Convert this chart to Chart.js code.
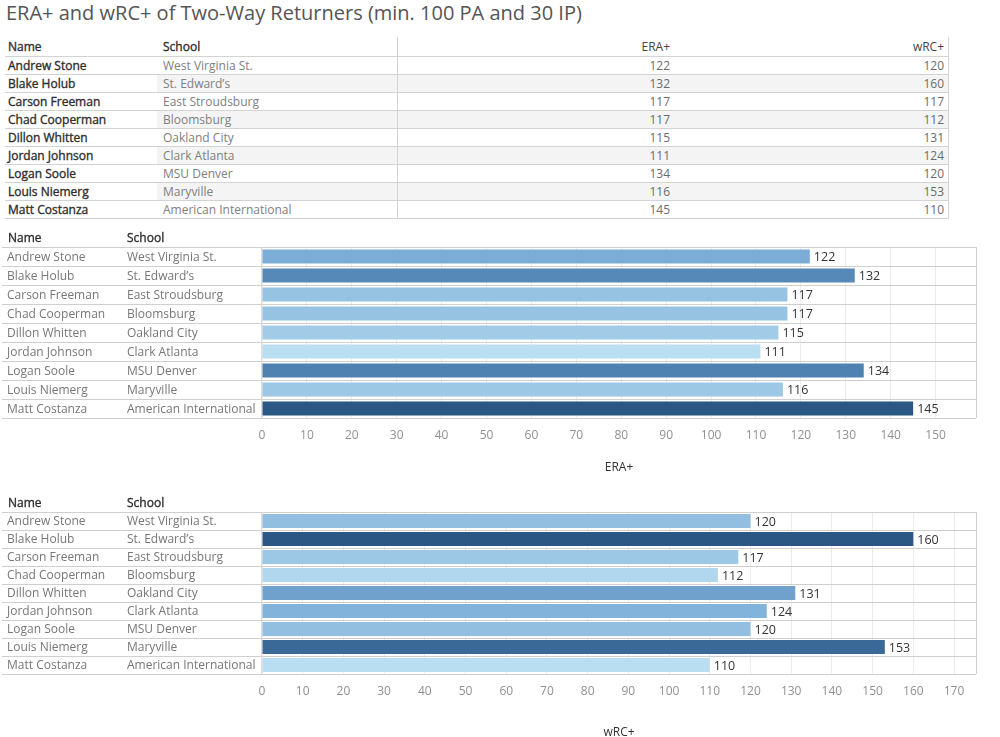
<!DOCTYPE html>
<html>
<head>
<meta charset="utf-8">
<script src="https://cdn.jsdelivr.net/npm/chart.js@4.4.1/dist/chart.umd.min.js"></script>
<style>
  body { margin: 0; background: #fff; width: 1000px; height: 737px; overflow: hidden; position: relative; font-family: "Open Sans", sans-serif; }
  #title { position: absolute; left: 6px; top: 0; font-size: 20px; line-height: 26px; color: #555; white-space: nowrap; }
  #tbl { position: absolute; left: 5px; top: 37px; border-collapse: collapse; font-size: 12px; table-layout: fixed; }
  #tbl td { height: 17px; line-height: 17px; padding: 0; border-bottom: 1px solid #d3d3d3; white-space: nowrap; overflow: hidden; }
  #tbl tr.hd td { height: 18px; line-height: 19px; }
  #tbl .nm { width: 149px; padding-left: 3px; color: #2e2e2e; -webkit-text-stroke: 0.35px #2e2e2e; }
  #tbl .sc { width: 234px; padding-left: 6px; color: #808080; }
  #tbl .n1 { width: 272px; padding-right: 3px; text-align: right; color: #6b6b6b; border-left: 1px solid #d3d3d3; }
  #tbl .n2 { width: 271px; padding-right: 4px; text-align: right; color: #6b6b6b; border-right: 1px solid #d3d3d3; }
  #tbl tr.hd td.sc { color: #2e2e2e; -webkit-text-stroke: 0.35px #2e2e2e; }
  #tbl tr.hd td.n1, #tbl tr.hd td.n2 { color: #444; }
  #tbl tr.band td.sc, #tbl tr.band td.n1, #tbl tr.band td.n2 { background: #f4f4f4; }
  canvas { position: absolute; left: 0; }
  #c1 { top: 228px; }
  #c2 { top: 493px; }
</style>
</head>
<body>
<div id="title">ERA+ and wRC+ of Two-Way Returners (min. 100 PA and 30 IP)</div>
<table id="tbl"></table>
<canvas id="c1" width="1000" height="255"></canvas>
<canvas id="c2" width="1000" height="246"></canvas>
<script>
// datos
const names = ["Andrew Stone", "Blake Holub", "Carson Freeman", "Chad Cooperman", "Dillon Whitten",
  "Jordan Johnson", "Logan Soole", "Louis Niemerg", "Matt Costanza"];
const schools = ["West Virginia St.", "St. Edward\u2019s", "East Stroudsburg", "Bloomsburg", "Oakland City",
  "Clark Atlanta", "MSU Denver", "Maryville", "American International"];
const eraPlus = [122, 132, 117, 117, 115, 111, 134, 116, 145];
const wrcPlus = [120, 160, 117, 112, 131, 124, 120, 153, 110];

// tabla de arriba
const tbl = document.getElementById("tbl");
let html = '<tr class="hd"><td class="nm">Name</td><td class="sc">School</td><td class="n1">ERA+</td><td class="n2">wRC+</td></tr>';
names.forEach((n, i) => {
  html += '<tr class="' + (i % 2 === 1 ? "band" : "") + '"><td class="nm">' + n + '</td><td class="sc">' + schools[i] +
    '</td><td class="n1">' + eraPlus[i] + '</td><td class="n2">' + wrcPlus[i] + '</td></tr>';
});
tbl.innerHTML = html;

// escala de azules tipo Tableau
const stops = [[0, [185, 221, 241]], [0.3, [126, 176, 216]], [0.65, [82, 133, 181]], [1, [42, 87, 131]]];
function colorFor(v, min, max) {
  const t = (v - min) / (max - min);
  for (let k = 1; k < stops.length; k++) {
    if (t <= stops[k][0]) {
      const a = stops[k - 1], b = stops[k];
      const f = (t - a[0]) / (b[0] - a[0]);
      const c = a[1].map((x, j) => Math.round(x + (b[1][j] - x) * f));
      return "rgb(" + c.join(",") + ")";
    }
  }
  return "rgb(42,87,131)";
}

const FONT = "'Open Sans', sans-serif";

const rowText = {
  id: "rowText",
  beforeDatasetsDraw(chart) {
    const ctx = chart.ctx;
    const area = chart.chartArea;
    const n = names.length;
    const h = (area.bottom - area.top) / n;
    ctx.save();
    ctx.strokeStyle = "#cfcfcf";
    ctx.lineWidth = 1;
    for (let i = 0; i <= n; i++) {
      const y = Math.round(area.top + i * h) + 0.5;
      ctx.beginPath();
      ctx.moveTo(2, y);
      ctx.lineTo(area.right, y);
      ctx.stroke();
    }
    ctx.beginPath();
    ctx.moveTo(Math.round(area.right) + 0.5, area.top);
    ctx.lineTo(Math.round(area.right) + 0.5, area.bottom);
    ctx.stroke();
    ctx.strokeStyle = "#dcdcdc";
    ctx.beginPath();
    ctx.moveTo(Math.round(area.left) - 0.5, area.top);
    ctx.lineTo(Math.round(area.left) - 0.5, area.bottom);
    ctx.stroke();
    ctx.restore();
  },
  afterDatasetsDraw(chart, args, opts) {
    const ctx = chart.ctx;
    const area = chart.chartArea;
    const ys = chart.scales.y;
    const xs = chart.scales.x;
    const vals = chart.data.datasets[0].data;
    ctx.save();
    ctx.textBaseline = "middle";
    ctx.textAlign = "left";
    // cabecera un poco más gruesa
    ctx.font = "12px " + FONT;
    ctx.fillStyle = "#2e2e2e";
    ctx.strokeStyle = "#2e2e2e";
    ctx.lineWidth = 0.35;
    ["Name", "School"].forEach((t, k) => {
      const x = k === 0 ? 8 : 127;
      ctx.fillText(t, x, 11);
      ctx.strokeText(t, x, 11);
    });
    names.forEach((nm, i) => {
      const y = ys.getPixelForValue(i) + 1;
      ctx.font = "12px " + FONT;
      ctx.fillStyle = "#777";
      ctx.fillText(nm, 7, y);
      ctx.fillText(schools[i], 127, y);
      ctx.fillStyle = "#333";
      ctx.font = "12.5px " + FONT;
      ctx.fillText(String(vals[i]), xs.getPixelForValue(vals[i]) + 4, y);
    });
    ctx.font = "12px " + FONT;
    ctx.textAlign = "center";
    ctx.fillStyle = "#333";
    ctx.fillText(opts.title, (area.left + area.right) / 2, area.bottom + opts.titleOffset);
    ctx.restore();
  }
};

function makeChart(id, vals, maxX, barPct, titleText, titleOffset) {
  const lo = Math.min(...vals), hi = Math.max(...vals);
  return new Chart(document.getElementById(id), {
    type: "bar",
    data: {
      labels: names,
      datasets: [{
        data: vals,
        backgroundColor: vals.map((v) => colorFor(v, lo, hi)),
        categoryPercentage: 1,
        barPercentage: barPct,
      }],
    },
    options: {
      indexAxis: "y",
      responsive: false,
      animation: false,
      layout: { padding: { left: 262, right: 24, top: 19, bottom: 0 } },
      plugins: {
        legend: { display: false },
        tooltip: { enabled: false },
        rowText: { title: titleText, titleOffset: titleOffset },
      },
      scales: {
        y: { display: false },
        x: {
          min: 0,
          max: maxX,
          ticks: { stepSize: 10, includeBounds: false, color: "#909090", font: { family: FONT, size: 12 }, padding: 10, maxRotation: 0 },
          grid: { color: "#ececec", drawTicks: false },
          border: { display: false },
          afterFit(s) { s.height = 65; },
        },
      },
    },
    plugins: [rowText],
  });
}

makeChart("c1", eraPlus, 159, 0.74, "ERA+", 50);
makeChart("c2", wrcPlus, 175.4, 0.78, "wRC+", 59);
</script>
</body>
</html>
